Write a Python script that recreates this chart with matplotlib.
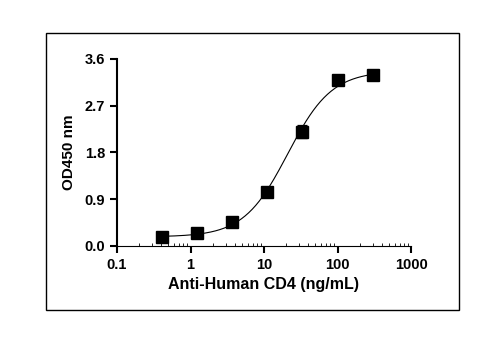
import numpy as np
import matplotlib
matplotlib.use("Agg")
import matplotlib.pyplot as plt
from matplotlib.patches import Rectangle
from matplotlib.ticker import LogLocator

plt.rcParams['font.family'] = ['Liberation Sans', 'DejaVu Sans']

conc = [0.41, 1.23, 3.7, 11.1, 33.3, 100, 300]
od = [0.16, 0.24, 0.45, 1.035, 2.20, 3.195, 3.285]
err = [0.01, 0.01, 0.02, 0.03, 0.12, 0.03, 0.03]

# 4PL fit parameters
bottom, top, ec50, hill = 0.17, 3.37, 21.0, 1.45

x_ticks = [0.1, 1, 10, 100, 1000]
x_ticklabels = ["0.1", "1", "10", "100", "1000"]
y_ticks = [0.0, 0.9, 1.8, 2.7, 3.6]
y_ticklabels = ["0.0", "0.9", "1.8", "2.7", "3.6"]

fig = plt.figure(figsize=(5.02, 3.45), dpi=100)
ax = fig.add_axes([117/502, 1-245.7/345, (411-117)/502, (245.7-59)/345])

xs = np.logspace(np.log10(conc[0]), np.log10(conc[-1]), 300)
ys = bottom + (top - bottom) / (1 + (ec50 / xs) ** hill)
ax.plot(xs, ys, color='black', lw=0.8, zorder=2)
ax.errorbar(conc, od, yerr=err, fmt='s', color='black', ms=8,
            capsize=3.5, elinewidth=0.9, capthick=0.9, zorder=3)

ax.set_xscale('log')
ax.set_xlim(0.1, 1000)
ax.set_ylim(0, 3.6)
ax.set_xticks(x_ticks)
ax.set_xticklabels(x_ticklabels)
ax.set_yticks(y_ticks)
ax.set_yticklabels(y_ticklabels)
ax.xaxis.set_minor_locator(LogLocator(base=10, subs=np.arange(2, 10)))
ax.tick_params(axis='x', which='minor', direction='in', length=2, width=0.6)
ax.tick_params(axis='both', which='major', direction='out', length=5, width=1.5,
               labelsize=10.5)
for lbl in ax.get_xticklabels() + ax.get_yticklabels():
    lbl.set_fontweight('bold')
ax.spines['top'].set_visible(False)
ax.spines['right'].set_visible(False)
ax.spines['left'].set_linewidth(1.5)
ax.spines['bottom'].set_linewidth(0.8)
ax.set_xlabel("Anti-Human CD4 (ng/mL)", fontsize=11.5, fontweight='bold', labelpad=4)
ax.set_ylabel("OD450 nm", fontsize=11, fontweight='bold', labelpad=6)

fig.patches.append(Rectangle((46/502, 1-310/345), (459-46)/502, (310-33)/345,
                             transform=fig.transFigure, fill=False,
                             edgecolor='black', lw=1.0))

fig.savefig("out.png", dpi=100)
